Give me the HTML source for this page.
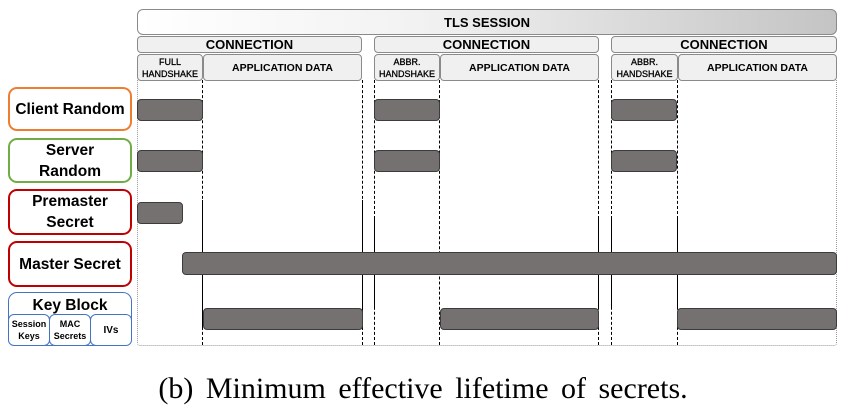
<!DOCTYPE html>
<html><head><meta charset="utf-8"><style>
body{margin:0;width:846px;height:409px;background:#fff;position:relative;overflow:hidden;font-family:"Liberation Sans",sans-serif}
.a{position:absolute;box-sizing:border-box}
.hd{border:1.5px solid #8a8a8a;border-radius:4px;background:#f0f0f0;font-weight:bold;color:#000;display:flex;align-items:center;justify-content:center;text-align:center}
.bar{background:#767171;border:1.3px solid #3c3c3c;border-radius:4px}
.lb{border:2.5px solid;border-radius:9px;background:#fff;font-weight:bold;display:flex;align-items:center;justify-content:center;text-align:center;font-size:15.5px;line-height:21px}
.vl{position:absolute;width:0;top:80px;height:265px;border-left:1.3px dashed #000}
.vs{position:absolute;width:0;top:200px;height:130px;border-left:1.3px solid #000}
</style></head><body>
<div class="a hd" style="left:137px;top:9px;width:700px;height:26px;background:linear-gradient(90deg,#fff 0%,#f2f2f2 40%,#c4c4c4 100%);font-size:13px;border-radius:6px">TLS SESSION</div>

<div class="a hd" style="left:137px;top:36px;width:225px;height:17px;font-size:13px">CONNECTION</div>
<div class="a hd" style="left:374px;top:36px;width:225px;height:17px;font-size:13px">CONNECTION</div>
<div class="a hd" style="left:611px;top:36px;width:226px;height:17px;font-size:13px">CONNECTION</div>

<div class="a hd" style="left:137px;top:54px;width:66px;height:27px;font-size:9px;line-height:12px;font-weight:normal;-webkit-text-stroke:0.3px #000">FULL<br>HANDSHAKE</div>
<div class="a hd" style="left:203px;top:54px;width:159px;height:27px;font-size:10.5px">APPLICATION DATA</div>
<div class="a hd" style="left:374px;top:54px;width:66px;height:27px;font-size:9px;line-height:12px;font-weight:normal;-webkit-text-stroke:0.3px #000">ABBR.<br>HANDSHAKE</div>
<div class="a hd" style="left:440px;top:54px;width:159px;height:27px;font-size:10.5px">APPLICATION DATA</div>
<div class="a hd" style="left:611px;top:54px;width:67px;height:27px;font-size:9px;line-height:12px;font-weight:normal;-webkit-text-stroke:0.3px #000">ABBR.<br>HANDSHAKE</div>
<div class="a hd" style="left:678px;top:54px;width:159px;height:27px;font-size:10.5px">APPLICATION DATA</div>

<div class="a" style="left:137px;top:80px;width:700px;height:266px;border:1px dotted #999;border-top:none;border-radius:0 0 3px 3px"></div>

<div class="vl" style="left:202px"></div><div class="vs" style="left:202px"></div>
<div class="vl" style="left:362px"></div><div class="vs" style="left:362px"></div>
<div class="vl" style="left:374px"></div><div class="vs" style="left:374px;top:218px;height:90px"></div>
<div class="vl" style="left:439px"></div>
<div class="vl" style="left:598px"></div><div class="vs" style="left:598px;top:218px;height:90px"></div>
<div class="vl" style="left:611px"></div><div class="vs" style="left:611px;top:218px;height:90px"></div>
<div class="vl" style="left:677px"></div><div class="vs" style="left:677px;top:218px;height:90px"></div>

<div class="a bar" style="left:137px;top:99px;width:66px;height:22px"></div>
<div class="a bar" style="left:374px;top:99px;width:66px;height:22px"></div>
<div class="a bar" style="left:611px;top:99px;width:66px;height:22px"></div>
<div class="a bar" style="left:137px;top:150px;width:66px;height:22px"></div>
<div class="a bar" style="left:374px;top:150px;width:66px;height:22px"></div>
<div class="a bar" style="left:611px;top:150px;width:66px;height:22px"></div>
<div class="a bar" style="left:137px;top:202px;width:46px;height:22px"></div>
<div class="a bar" style="left:182px;top:252px;width:655px;height:23px"></div>
<div class="a bar" style="left:203px;top:308px;width:160px;height:22px"></div>
<div class="a bar" style="left:440px;top:308px;width:159px;height:22px"></div>
<div class="a bar" style="left:677px;top:308px;width:160px;height:22px"></div>

<div class="a lb" style="left:8px;top:87px;width:124px;height:44px;border-color:#ED7D31">Client Random</div>
<div class="a lb" style="left:8px;top:138px;width:124px;height:45px;border-color:#70AD47">Server<br>Random</div>
<div class="a lb" style="left:8px;top:189px;width:124px;height:46px;border-color:#C00000">Premaster<br>Secret</div>
<div class="a lb" style="left:8px;top:241px;width:124px;height:46px;border-color:#C00000">Master Secret</div>
<div class="a lb" style="left:8px;top:292px;width:124px;height:54px;border-color:#4472C4;border-width:1.5px;align-items:flex-start;line-height:26px">Key Block</div>
<div class="a lb" style="left:8px;top:314px;width:42px;height:32px;border-color:#4472C4;border-width:1.5px;border-radius:6px;font-size:9px;line-height:12px">Session<br>Keys</div>
<div class="a lb" style="left:49px;top:314px;width:42px;height:32px;border-color:#4472C4;border-width:1.5px;border-radius:6px;font-size:9px;line-height:12px">MAC<br>Secrets</div>
<div class="a lb" style="left:90px;top:314px;width:42px;height:32px;border-color:#4472C4;border-width:1.5px;border-radius:6px;font-size:10px">IVs</div>

<div class="a" style="left:0;top:372px;width:846px;text-align:center;font-family:'Liberation Serif',serif;font-size:30px;line-height:34px;word-spacing:5px;color:#000">(b) Minimum effective lifetime of secrets.</div>
</body></html>
